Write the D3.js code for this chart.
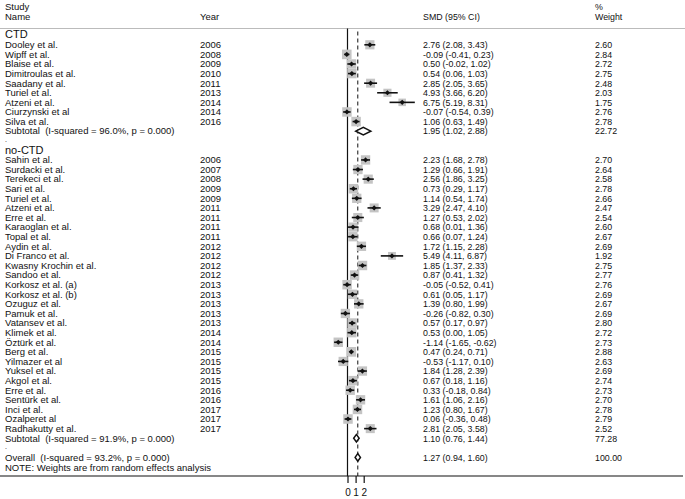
<!DOCTYPE html>
<html><head><meta charset="utf-8">
<script src="https://cdn.jsdelivr.net/npm/d3@7"></script>
<style>
html,body{margin:0;padding:0;background:#fff;}
text{font-family:"Liberation Sans",Arial,sans-serif;fill:#111;white-space:pre;}
</style></head>
<body>
<svg id="chart" width="685" height="499"></svg>
<script>
// ---- Data ----
const ctdNames = ["Dooley et al.","Wipff et al.","Blaise et al.","Dimitroulas et al.","Saadany et al.","Turiel et al.","Atzeni et al.","Ciurzynski et al","Silva et al."];
const ctdYears = [2006,2008,2009,2010,2011,2013,2014,2014,2016];
const ctdSMD = [2.76,-0.09,0.50,0.54,2.85,4.93,6.75,-0.07,1.06];
const ctdLo  = [2.08,-0.41,-0.02,0.06,2.05,3.66,5.19,-0.54,0.63];
const ctdHi  = [3.43,0.23,1.02,1.03,3.65,6.20,8.31,0.39,1.49];
const ctdWeight = [2.60,2.84,2.72,2.75,2.48,2.03,1.75,2.76,2.78];
const ctdSubtotal = {label:"Subtotal  (I-squared = 96.0%, p = 0.000)", smd:1.95, lo:1.02, hi:2.88, w:22.72};

const noNames = ["Sahin et al.","Surdacki et al.","Terekeci et al.","Sari et al.","Turiel et al.","Atzeni et al.","Erre et al.","Karaoglan et al.","Topal et al.","Aydin et al.","Di Franco et al.","Kwasny Krochin et al.","Sandoo et al.","Korkosz et al. (a)","Korkosz et al. (b)","Ozuguz et al.","Pamuk et al.","Vatansev et al.","Klimek et al.","Öztürk et al.","Berg et al.","Yilmazer et al","Yuksel et al.","Akgol et al.","Erre et al.","Sentürk et al.","Inci et al.","Ozalperet al","Radhakutty et al."];
const noYears = [2006,2007,2008,2009,2009,2011,2011,2011,2011,2012,2012,2012,2012,2013,2013,2013,2013,2013,2014,2014,2015,2015,2015,2015,2016,2016,2017,2017,2017];
const noSMD = [2.23,1.29,2.56,0.73,1.14,3.29,1.27,0.68,0.66,1.72,5.49,1.85,0.87,-0.05,0.61,1.39,-0.26,0.57,0.53,-1.14,0.47,-0.53,1.84,0.67,0.33,1.61,1.23,0.06,2.81];
const noLo  = [1.68,0.66,1.86,0.29,0.54,2.47,0.53,0.01,0.07,1.15,4.11,1.37,0.41,-0.52,0.05,0.80,-0.82,0.17,0.00,-1.65,0.24,-1.17,1.28,0.18,-0.18,1.06,0.80,-0.36,2.05];
const noHi  = [2.78,1.91,3.25,1.17,1.74,4.10,2.02,1.36,1.24,2.28,6.87,2.33,1.32,0.41,1.17,1.99,0.30,0.97,1.05,-0.62,0.71,0.10,2.39,1.16,0.84,2.16,1.67,0.48,3.58];
const noWeight = [2.70,2.64,2.58,2.78,2.66,2.47,2.54,2.60,2.67,2.69,1.92,2.75,2.77,2.76,2.69,2.67,2.69,2.80,2.72,2.73,2.88,2.63,2.69,2.74,2.73,2.70,2.78,2.79,2.52];
const noSubtotal = {label:"Subtotal  (I-squared = 91.9%, p = 0.000)", smd:1.10, lo:0.76, hi:1.44, w:77.28};

const overall = {label:"Overall  (I-squared = 93.2%, p = 0.000)", smd:1.27, lo:0.94, hi:1.60, w:100.00};
const xTicks = [0,1,2];
const groupLabels = ["CTD","no-CTD"];
const noteText = "NOTE: Weights are from random effects analysis";

// ---- Build rows ----
const rows = [];
rows.push({type:"group", label:groupLabels[0]});
ctdNames.forEach((n,i)=>rows.push({type:"study", label:n, year:ctdYears[i], smd:ctdSMD[i], lo:ctdLo[i], hi:ctdHi[i], w:ctdWeight[i]}));
rows.push(Object.assign({type:"sub"}, ctdSubtotal));
rows.push({type:"dot", label:"."});
rows.push({type:"group", label:groupLabels[1]});
noNames.forEach((n,i)=>rows.push({type:"study", label:n, year:noYears[i], smd:noSMD[i], lo:noLo[i], hi:noHi[i], w:noWeight[i]}));
rows.push(Object.assign({type:"sub"}, noSubtotal));
rows.push({type:"dot", label:"."});
rows.push(Object.assign({type:"sub", overall:true}, overall));

const svg = d3.select("#chart");
const W = 685;

const x = d3.scaleLinear().domain([0, 2]).range([347.5, 363.7]);
const y = d3.scaleLinear().domain([0, rows.length - 1]).range([35.2, 457.4]);
const axisY = 476;
const topLine = 28.5;

const fmt = v => v.toFixed(2);
const nameSX = 1.0, numSX = 0.93, FS = 9.5;
function txt(g, xx, yy, s, sx, fs) {
  return g.append("text")
    .attr("transform", `translate(${xx},${yy}) scale(${sx},1)`)
    .attr("dy", "0.35em")
    .style("font-size", (fs||FS) + "px")
    .text(s);
}

// header
const hdr = svg.append("g");
txt(hdr, 5, 7, "Study", nameSX);
txt(hdr, 5, 17, "Name", nameSX);
txt(hdr, 200, 17, "Year", nameSX);
txt(hdr, 423, 17, "SMD (95% CI)", numSX);
txt(hdr, 595, 7, "%", numSX);
txt(hdr, 595, 17, "Weight", numSX);
svg.append("line").attr("x1",0).attr("x2",W).attr("y1",topLine).attr("y2",topLine)
  .attr("stroke","#bbb").attr("stroke-width",1);

// reference lines
svg.append("line").attr("x1",x(0)).attr("x2",x(0)).attr("y1",topLine).attr("y2",axisY)
  .attr("stroke","#111").attr("stroke-width",1.2);
svg.append("line").attr("x1",x(overall.smd)).attr("x2",x(overall.smd)).attr("y1",topLine+3).attr("y2",axisY)
  .attr("stroke","#111").attr("stroke-width",1).attr("stroke-dasharray","4,3");

// rows
const textG = svg.append("g");
const markG = svg.append("g");
rows.forEach((r,i)=>{
  const yy = y(i);
  if (r.type === "group") {
    txt(textG, 5, yy - 0.6, r.label, nameSX, 11);
  } else if (r.type === "dot") {
    txt(textG, 5, yy - 1.2, r.label, nameSX, 7);
  } else if (r.type === "study") {
    txt(textG, 5, yy, r.label, nameSX);
    txt(textG, 200, yy, String(r.year), nameSX);
    txt(textG, 423, yy, `${fmt(r.smd)} (${fmt(r.lo)}, ${fmt(r.hi)})`, numSX);
    txt(textG, 595, yy, fmt(r.w), numSX);
    const s = Math.sqrt(r.w) * 5.7;
    markG.append("rect").attr("x", x(r.smd) - s/2).attr("y", yy - s/2)
      .attr("width", s).attr("height", s).attr("fill", "#c4c4c4");
    markG.append("line").attr("x1", x(r.lo)).attr("x2", x(r.hi)).attr("y1", yy).attr("y2", yy)
      .attr("stroke", "#111").attr("stroke-width", 1.6);
    const d = 2.6;
    markG.append("path")
      .attr("d", `M${x(r.smd)-d},${yy}L${x(r.smd)},${yy-d}L${x(r.smd)+d},${yy}L${x(r.smd)},${yy+d}Z`)
      .attr("fill", "#111");
  } else if (r.type === "sub") {
    txt(textG, 5, yy, r.label, nameSX);
    txt(textG, 423, yy, `${fmt(r.smd)} (${fmt(r.lo)}, ${fmt(r.hi)})`, numSX);
    txt(textG, 595, yy, fmt(r.w), numSX);
    const h = 3.8;
    markG.append("path")
      .attr("d", `M${x(r.lo)},${yy}L${x(r.smd)},${yy-h}L${x(r.hi)},${yy}L${x(r.smd)},${yy+h}Z`)
      .attr("fill", "#fff").attr("stroke", "#111").attr("stroke-width", 1.5);
  }
});

// note
txt(svg, 5, y(rows.length - 1) + 10.5, noteText, nameSX);

// axis
svg.append("line").attr("x1",0).attr("x2",683).attr("y1",axisY).attr("y2",axisY)
  .attr("stroke","#111").attr("stroke-width",1.2);
const ax = svg.append("g").attr("transform", `translate(0,${axisY})`)
  .call(d3.axisBottom(x).tickValues(xTicks).tickSize(7).tickPadding(6).tickFormat(d3.format("d")));
ax.select(".domain").remove();
ax.selectAll("line").attr("stroke","#111").attr("stroke-width",1.2);
ax.selectAll("text").style("font-family","Liberation Sans, Arial, sans-serif").style("font-size","10px").attr("fill","#111");
</script>
</body></html>
